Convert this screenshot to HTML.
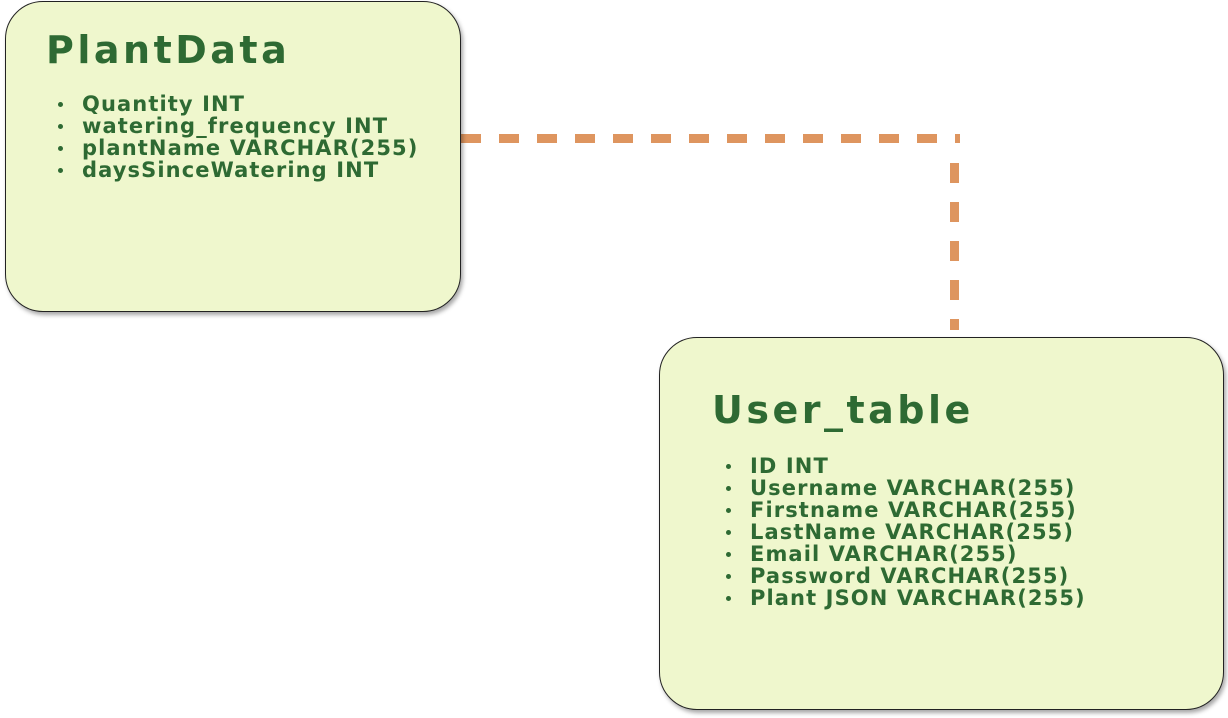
<!DOCTYPE html>
<html><head><style>
body{margin:0;width:1228px;height:718px;background:#fff;position:relative;overflow:hidden;font-family:"DejaVu Sans","Liberation Sans",sans-serif;color:#2e6a33}
.box{position:absolute;background:#eff7cd;border:1.3px solid #222;border-radius:38px;box-shadow:2px 3px 4px rgba(0,0,0,.35);box-sizing:border-box}
.t{position:absolute;font-weight:bold;font-size:38px;letter-spacing:3.5px;white-space:nowrap}
ul{position:absolute;margin:0;padding:0;list-style:none;font-weight:bold;font-size:21px;line-height:22px;letter-spacing:1.1px;white-space:nowrap}
li{position:relative;padding-left:26px}
li:before{content:"";position:absolute;left:2px;top:9px;width:5px;height:5px;border-radius:50%;background:#2e6a33}
</style></head><body>
<svg width="1228" height="718" style="position:absolute;left:0;top:0">
<line x1="461" y1="138.5" x2="960" y2="138.5" stroke="#de955f" stroke-width="9" stroke-dasharray="20 18"/>
<line x1="954.5" y1="163" x2="954.5" y2="330" stroke="#de955f" stroke-width="9" stroke-dasharray="20 19"/>
</svg>
<div class="box" style="left:5px;top:1px;width:456px;height:311px"></div>
<div class="t" style="left:46px;top:28px">PlantData</div>
<ul style="left:56px;top:93px">
<li>Quantity INT</li><li>watering_frequency INT</li><li>plantName VARCHAR(255)</li><li>daysSinceWatering INT</li>
</ul>
<div class="box" style="left:659px;top:337px;width:565px;height:373px"></div>
<div class="t" style="left:712px;top:388px">User_table</div>
<ul style="left:724px;top:455px">
<li>ID INT</li><li>Username VARCHAR(255)</li><li>Firstname VARCHAR(255)</li><li>LastName VARCHAR(255)</li><li>Email VARCHAR(255)</li><li>Password VARCHAR(255)</li><li>Plant JSON VARCHAR(255)</li>
</ul>
</body></html>
